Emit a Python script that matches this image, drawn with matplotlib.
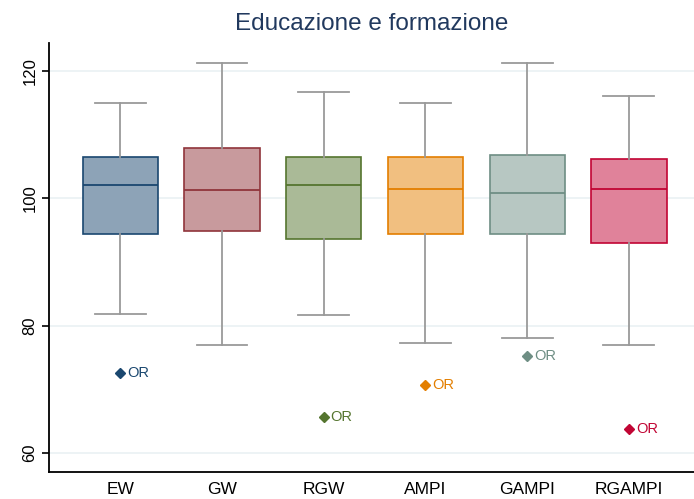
import matplotlib
matplotlib.use('Agg')
import matplotlib.pyplot as plt
from matplotlib.colors import to_rgb
import numpy as np

plt.rcParams['font.family'] = ['Liberation Sans', 'DejaVu Sans']

# Data
labels = ['EW', 'GW', 'RGW', 'AMPI', 'GAMPI', 'RGAMPI']
whislo = [81.9, 77.0, 81.6, 77.3, 78.0, 77.0]
q1 = [94.4, 94.9, 93.6, 94.4, 94.4, 93.0]
med = [102.1, 101.3, 102.1, 101.5, 100.9, 101.5]
q3 = [106.5, 107.9, 106.5, 106.5, 106.8, 106.2]
whishi = [115.0, 121.3, 116.7, 115.0, 121.3, 116.1]
outliers = [[72.5], [], [65.6], [70.6], [75.3], [63.8]]

edge_colors = ['#1a476f', '#90353b', '#55752f', '#e37e00', '#6e8e84', '#c10534']

def lighten(c, f=0.5):
    r, g, b = to_rgb(c)
    return (1 - f * (1 - r), 1 - f * (1 - g), 1 - f * (1 - b))

stats = []
for i, lab in enumerate(labels):
    stats.append(dict(label=lab, whislo=whislo[i], q1=q1[i], med=med[i],
                      q3=q3[i], whishi=whishi[i], fliers=[]))

fig = plt.figure(figsize=(6.94, 4.99), dpi=100)
ax = fig.add_axes([0.070, 0.054, 0.930, 0.860])

pos = np.arange(1, len(labels) + 1)
bp = ax.bxp(stats, positions=pos, widths=0.74, patch_artist=True,
            showfliers=False, capwidths=0.5,
            whiskerprops=dict(color='#9a9a9a', lw=1.3),
            capprops=dict(color='#9a9a9a', lw=1.3))

for i, c in enumerate(edge_colors):
    bp['boxes'][i].set_facecolor(lighten(c, 0.5))
    bp['boxes'][i].set_edgecolor(c)
    bp['boxes'][i].set_linewidth(1.2)
    bp['medians'][i].set_color(c)
    bp['medians'][i].set_linewidth(1.3)
    for v in outliers[i]:
        ax.plot(pos[i], v, marker='D', ms=5.5, color=c, ls='none', zorder=3)
        ax.annotate('OR', (pos[i], v), xytext=(5, 0), textcoords='offset points',
                    ha='left', va='center', fontsize=10.5, color=c)

ax.set_xlim(0.295, 6.64)
ax.set_ylim(57.0, 124.4)
ax.set_yticks([60, 80, 100, 120])
ax.set_xticks(pos)
ax.set_xticklabels(labels, fontsize=12.5)
for t in ax.get_yticklabels():
    t.set_rotation(90)
    t.set_va('center')
    t.set_fontsize(12)
ax.tick_params(axis='x', length=0, pad=7)
ax.tick_params(axis='y', length=5, width=1.2, pad=3)

ax.grid(axis='y', color='#eaf1f3', lw=1.2)
ax.set_axisbelow(True)
ax.spines['top'].set_visible(False)
ax.spines['right'].set_visible(False)
ax.spines['left'].set_linewidth(1.3)
ax.spines['bottom'].set_linewidth(1.3)

ax.set_title('Educazione e formazione', fontsize=17.5, color='#21395e', pad=9)

fig.savefig('out.png', dpi=100)
